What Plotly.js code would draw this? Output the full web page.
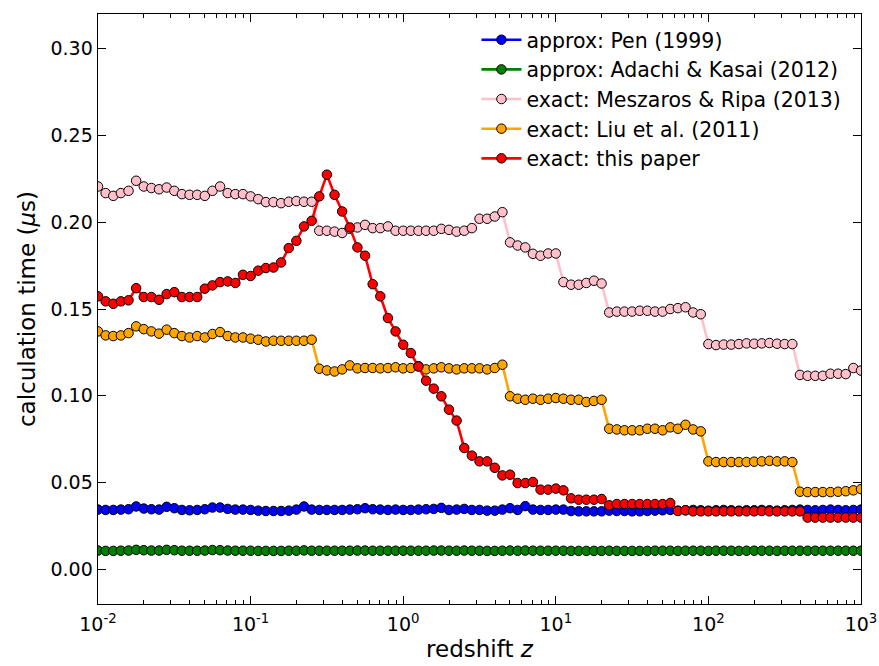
<!DOCTYPE html>
<html>
<head>
<meta charset="utf-8">
<script src="https://cdn.plot.ly/plotly-3.0.1.min.js"></script>
<style>html,body{margin:0;padding:0;background:#fff;}</style>
</head>
<body>
<div id="chart" style="width:879px;height:666px;"></div>
<script>
// redshift grid exponents: log10(z) from -2 to 3 in steps of 0.05 (101 points)
const zExp = [];
for (let i = 0; i <= 100; i++) zExp.push(-2 + 0.05 * i);
const redshift = zExp.map(e => Math.pow(10, e));

const pen = [
0.0344,0.0342,0.0342,0.0344,0.0346,0.0362,0.0350,0.0346,0.0344,0.0360,
0.0352,0.0342,0.0340,0.0342,0.0346,0.0356,0.0356,0.0348,0.0344,0.0344,
0.0342,0.0338,0.0336,0.0336,0.0336,0.0338,0.0344,0.0362,0.0344,0.0342,
0.0342,0.0342,0.0342,0.0344,0.0346,0.0352,0.0346,0.0344,0.0342,0.0344,
0.0342,0.0342,0.0344,0.0346,0.0348,0.0354,0.0342,0.0344,0.0348,0.0342,
0.0342,0.0338,0.0338,0.0344,0.0352,0.0342,0.0364,0.0344,0.0342,0.0342,
0.0344,0.0344,0.0336,0.0334,0.0334,0.0334,0.0334,0.0338,0.0336,0.0336,
0.0334,0.0334,0.0336,0.0338,0.0340,0.0342,0.0338,0.0340,0.0342,0.0340,
0.0338,0.0340,0.0342,0.0340,0.0338,0.0340,0.0340,0.0342,0.0340,0.0338,
0.0340,0.0342,0.0344,0.0342,0.0340,0.0342,0.0344,0.0342,0.0340,0.0342,
0.0344];

const adachi = [
0.0108,0.0106,0.0106,0.0107,0.0108,0.0112,0.0110,0.0108,0.0108,0.0112,
0.0110,0.0107,0.0107,0.0107,0.0108,0.0111,0.0110,0.0108,0.0107,0.0107,
0.0107,0.0106,0.0106,0.0106,0.0106,0.0107,0.0107,0.0109,0.0107,0.0107,
0.0107,0.0107,0.0107,0.0107,0.0108,0.0108,0.0107,0.0107,0.0107,0.0107,
0.0107,0.0107,0.0107,0.0107,0.0108,0.0108,0.0107,0.0107,0.0108,0.0107,
0.0107,0.0106,0.0106,0.0107,0.0108,0.0107,0.0108,0.0107,0.0107,0.0107,
0.0107,0.0107,0.0106,0.0106,0.0106,0.0106,0.0106,0.0107,0.0106,0.0106,
0.0106,0.0106,0.0106,0.0107,0.0107,0.0107,0.0106,0.0107,0.0107,0.0107,
0.0106,0.0107,0.0107,0.0107,0.0106,0.0107,0.0107,0.0107,0.0107,0.0106,
0.0107,0.0107,0.0107,0.0107,0.0107,0.0107,0.0107,0.0107,0.0107,0.0107,
0.0107];

const meszaros = [
0.2206,0.2168,0.2152,0.2168,0.2181,0.2239,0.2206,0.2197,0.2190,0.2200,
0.2181,0.2162,0.2158,0.2158,0.2152,0.2181,0.2206,0.2168,0.2162,0.2162,
0.2149,0.2133,0.2116,0.2116,0.2110,0.2118,0.2122,0.2118,0.2118,0.1951,
0.1951,0.1946,0.1938,0.1962,0.1970,0.1985,0.1966,0.1966,0.1976,0.1951,
0.1951,0.1951,0.1951,0.1951,0.1951,0.1962,0.1956,0.1946,0.1951,0.1966,
0.2020,0.2020,0.2033,0.2058,0.1884,0.1866,0.1855,0.1818,0.1807,0.1820,
0.1820,0.1655,0.1640,0.1640,0.1650,0.1663,0.1647,0.1480,0.1485,0.1485,
0.1485,0.1490,0.1490,0.1485,0.1485,0.1500,0.1505,0.1510,0.1480,0.1470,
0.1298,0.1292,0.1295,0.1295,0.1298,0.1302,0.1300,0.1302,0.1304,0.1300,
0.1298,0.1298,0.1120,0.1115,0.1115,0.1115,0.1127,0.1127,0.1125,0.1160,
0.1145];

const liu = [
0.1371,0.1348,0.1344,0.1348,0.1361,0.1400,0.1384,0.1371,0.1358,0.1381,
0.1361,0.1344,0.1336,0.1344,0.1336,0.1356,0.1367,0.1344,0.1336,0.1336,
0.1329,0.1323,0.1313,0.1317,0.1317,0.1317,0.1317,0.1317,0.1323,0.1156,
0.1146,0.1140,0.1152,0.1175,0.1158,0.1160,0.1160,0.1158,0.1160,0.1164,
0.1158,0.1160,0.1170,0.1152,0.1158,0.1164,0.1158,0.1152,0.1158,0.1158,
0.1158,0.1152,0.1160,0.1179,0.0997,0.0983,0.0977,0.0983,0.0977,0.0983,
0.0987,0.0983,0.0977,0.0977,0.0964,0.0970,0.0977,0.0810,0.0806,0.0801,
0.0801,0.0801,0.0810,0.0810,0.0801,0.0818,0.0810,0.0833,0.0806,0.0795,
0.0622,0.0618,0.0618,0.0618,0.0618,0.0618,0.0620,0.0622,0.0625,0.0622,
0.0622,0.0618,0.0447,0.0445,0.0445,0.0445,0.0445,0.0447,0.0450,0.0455,
0.0462];

const thisPaper = [
0.1573,0.1544,0.1530,0.1544,0.1550,0.1620,0.1569,0.1569,0.1553,0.1586,
0.1597,0.1569,0.1569,0.1569,0.1617,0.1636,0.1655,0.1659,0.1650,0.1697,
0.1690,0.1721,0.1736,0.1739,0.1768,0.1851,0.1893,0.1976,0.2008,0.2149,
0.2274,0.2158,0.2062,0.1970,0.1855,0.1807,0.1643,0.1573,0.1448,0.1371,
0.1294,0.1246,0.1169,0.1087,0.1041,0.0997,0.0920,0.0857,0.0699,0.0655,
0.0622,0.0622,0.0585,0.0541,0.0545,0.0497,0.0497,0.0503,0.0459,0.0459,
0.0465,0.0455,0.0409,0.0401,0.0401,0.0401,0.0405,0.0369,0.0376,0.0376,
0.0376,0.0376,0.0376,0.0376,0.0376,0.0382,0.0336,0.0340,0.0334,0.0334,
0.0334,0.0334,0.0334,0.0334,0.0334,0.0334,0.0334,0.0336,0.0334,0.0334,
0.0334,0.0334,0.0334,0.0298,0.0298,0.0298,0.0298,0.0298,0.0298,0.0298,
0.0298];

const seriesNames = ['approx: Pen (1999)', 'approx: Adachi &amp; Kasai (2012)',
  'exact: Meszaros &amp; Ripa (2013)', 'exact: Liu et al. (2011)', 'exact: this paper'];
const seriesColors = ['#0000ff', '#008000', '#ffc0cb', '#ffa500', '#ff0000'];
const seriesData = [pen, adachi, meszaros, liu, thisPaper];

const xTickVals = [0.01, 0.1, 1, 10, 100, 1000];
const xTickText = ['10<sup>-2</sup>', '10<sup>-1</sup>', '10<sup>0</sup>', '10<sup>1</sup>', '10<sup>2</sup>', '10<sup>3</sup>'];
const yTickVals = [0, 0.05, 0.10, 0.15, 0.20, 0.25, 0.30];

const minorVals = [];
for (let d = -2; d < 3; d++) for (let m = 2; m <= 9; m++) minorVals.push(m * Math.pow(10, d));

const traces = seriesData.map((ys, k) => ({
  x: redshift, y: ys, type: 'scatter', mode: 'lines+markers',
  name: seriesNames[k],
  line: {color: seriesColors[k], width: 2.6},
  marker: {color: seriesColors[k], size: 9.5, line: {color: '#000', width: 1}}
}));

const axisCommon = {
  showline: true, linecolor: '#000', linewidth: 1.4, mirror: 'allticks',
  ticks: 'inside', ticklen: 8, tickwidth: 1, tickcolor: '#000',
  showgrid: false, zeroline: false,
  tickfont: {family: 'DejaVu Sans', size: 19, color: '#000'}
};

const layout = {
  width: 879, height: 666,
  margin: {l: 98, r: 18, t: 14, b: 62},
  paper_bgcolor: '#fff', plot_bgcolor: '#fff',
  font: {family: 'DejaVu Sans', color: '#000'},
  showlegend: true,
  legend: {x: 0.496, y: 0.99, xanchor: 'left', yanchor: 'top',
    bgcolor: 'rgba(0,0,0,0)', borderwidth: 0, itemwidth: 40, tracegroupgap: 0,
    font: {family: 'DejaVu Sans', size: 20.5, color: '#000'}},
  xaxis: Object.assign({}, axisCommon, {
    type: 'log', range: [-2, 3],
    tickmode: 'array', tickvals: xTickVals, ticktext: xTickText,
    ticklabelstandoff: 3,
    minor: {tickmode: 'array', tickvals: minorVals, ticks: 'inside', ticklen: 4, tickwidth: 1, tickcolor: '#000', showgrid: false},
    title: {text: 'redshift <i>z</i>', font: {family: 'DejaVu Sans', size: 23, color: '#000'}, standoff: 6}
  }),
  yaxis: Object.assign({}, axisCommon, {
    range: [-0.02, 0.32],
    tickmode: 'array', tickvals: yTickVals, tickformat: '.2f',
    title: {text: 'calculation time (<i>μ</i>s)', font: {family: 'DejaVu Sans', size: 23, color: '#000'}, standoff: 8}
  })
};

Plotly.newPlot('chart', traces, layout, {displayModeBar: false, staticPlot: true});
</script>
</body>
</html>
